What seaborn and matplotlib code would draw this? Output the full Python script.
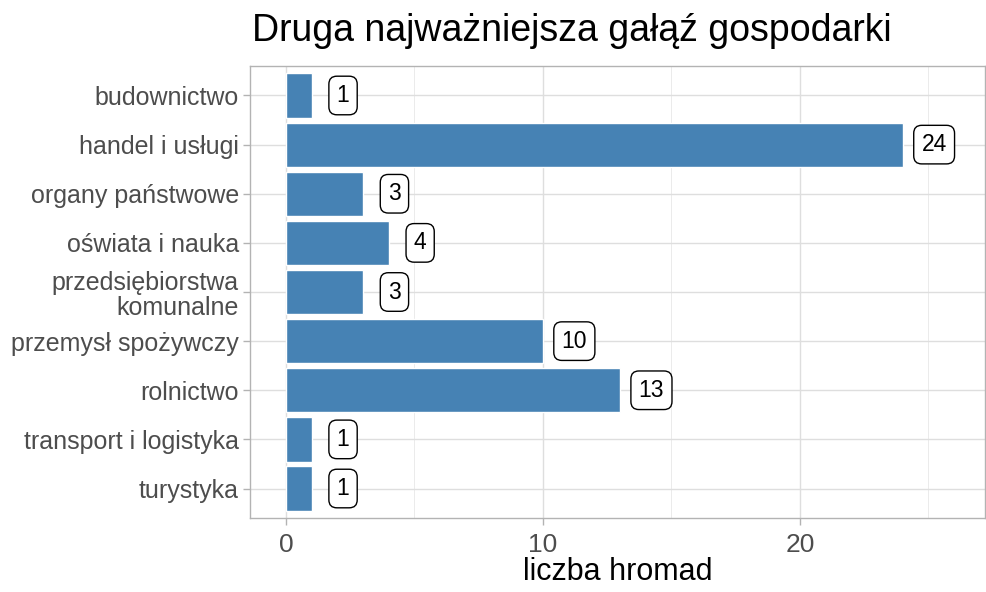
import pandas as pd
import matplotlib.pyplot as plt
import seaborn as sns
from matplotlib.ticker import MultipleLocator

categories = [
    "budownictwo",
    "handel i usługi",
    "organy państwowe",
    "oświata i nauka",
    "przedsiębiorstwa\nkomunalne",
    "przemysł spożywczy",
    "rolnictwo",
    "transport i logistyka",
    "turystyka",
]
counts = [1, 24, 3, 4, 3, 10, 13, 1, 1]

df = pd.DataFrame({"branch": categories, "n": counts})

sns.set_theme(style="whitegrid")
plt.rcParams['font.family'] = ['Liberation Sans', 'DejaVu Sans']

fig = plt.figure(figsize=(9.87, 5.92), dpi=100)
ax = fig.add_axes([0.2533, 0.125, 0.7447, 0.7635])

sns.barplot(data=df, x="n", y="branch", orient="h", color="#4682B4",
            width=0.9, saturation=1, ax=ax)

for i, v in enumerate(counts):
    ax.text(v + 1.22, i, str(v), ha="center", va="center", fontsize=16.5,
            color="black",
            bbox=dict(boxstyle="round,pad=0.34,rounding_size=0.35",
                      fc="white", ec="black", lw=1.0))

ax.set_xlim(-1.4, 27.2)
ax.set_ylim(len(categories) - 0.4, -0.6)
ax.xaxis.set_major_locator(MultipleLocator(10))
ax.xaxis.set_minor_locator(MultipleLocator(5))
ax.grid(True, which="major", color="#dedede", lw=1.0)
ax.grid(True, which="minor", axis="x", color="#ebebeb", lw=0.7)
ax.set_axisbelow(True)

for s in ax.spines.values():
    s.set_visible(True)
    s.set_color("#b3b3b3")
    s.set_linewidth(1.0)

ax.tick_params(axis="y", length=5, color="#b3b3b3", width=1, labelsize=18,
               labelcolor="#4d4d4d", pad=3, left=True)
ax.tick_params(axis="x", length=5, color="#b3b3b3", width=1, labelsize=19,
               labelcolor="#4d4d4d", pad=6, bottom=True)
ax.tick_params(axis="x", which="minor", length=0)
for lab in ax.get_yticklabels():
    lab.set_linespacing(1.1)

ax.set_ylabel("")
ax.set_xlabel("liczba hromad", fontsize=22, color="black", labelpad=0)
fig.text(0.2553, 0.948, "Druga najważniejsza gałąź gospodarki",
         fontsize=27, color="black", ha="left", va="center")

plt.savefig("out.png", dpi=100)
